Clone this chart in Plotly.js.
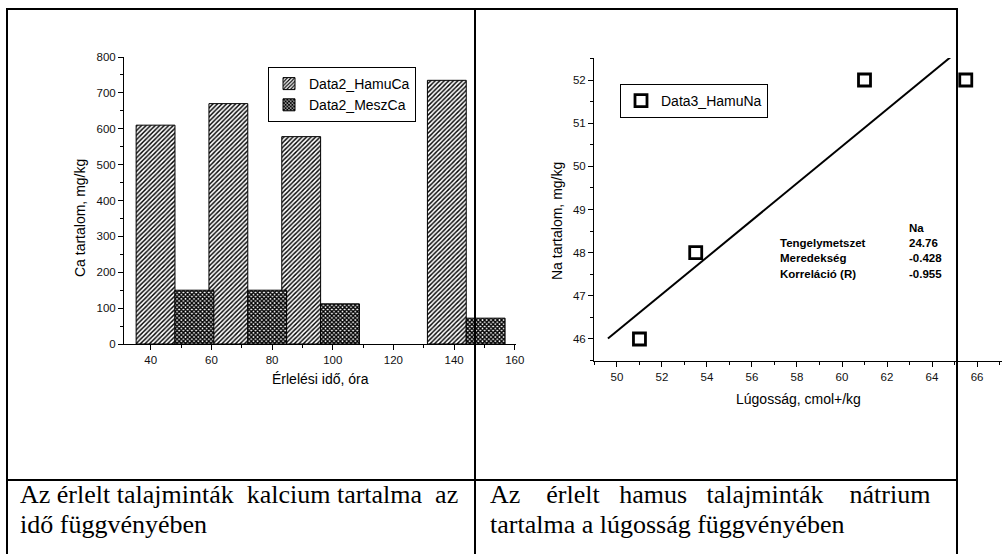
<!DOCTYPE html>
<html>
<head>
<meta charset="utf-8">
<script src="https://cdn.plot.ly/plotly-3.0.1.min.js"></script>
<style>html,body{margin:0;padding:0;background:#fff;}#plot{width:1002px;height:554px;}</style>
</head>
<body>
<div id="plot"></div>
<script>
// ---- Data: left chart (Ca content vs. ripening time) ----
const timeHours = [48, 72, 96, 144];
const hamuCa = [610, 670, 578, 735];
const meszCa = [150, 150, 112, 72];
const caSeriesNames = ["Data2_HamuCa", "Data2_MeszCa"];

// ---- Data: right chart (Na content vs. alkalinity) ----
const lugossag = [51, 53.5, 61, 65.5];
const hamuNa = [46, 48, 52, 52];
const naSeriesName = "Data3_HamuNa";
const fitSpanX = [49.6, 66];

// ---- Texts ----
const statLabels = ["Tengelymetszet", "Meredekség", "Korreláció (R)"];
const statValues = ["24.76", "-0.428", "-0.955"];
const statHeader = "Na";
const NB = "\u00a0";
const captionLeft = ["Az érlelt talajminták" + NB + " kalcium tartalma" + NB + " az", "idő függvényében"];
const captionRight = ["Az" + NB.repeat(3) + " érlelt" + NB.repeat(2) + " hamus" + NB.repeat(2) + " talajminták" + NB.repeat(3) + " nátrium", "tartalma a lúgosság függvényében"];

// least-squares fit of the Na data
function linFit(xs, ys) {
  const n = xs.length;
  const mx = xs.reduce((a, b) => a + b, 0) / n;
  const my = ys.reduce((a, b) => a + b, 0) / n;
  let sxx = 0, sxy = 0;
  for (let i = 0; i < n; i++) { sxx += (xs[i] - mx) ** 2; sxy += (xs[i] - mx) * (ys[i] - my); }
  const b = sxy / sxx;
  return { a: my - b * mx, b: b };
}
const fit = linFit(lugossag, hamuNa);
const fitY = fitSpanX.map(x => fit.a + fit.b * x);

const W = 1002, H = 554;
const px = x => x / W;
const py = y => 1 - y / H;

const SANS = "Liberation Sans";
const SERIF = "Liberation Serif";
const BW = 12.8;

const traces = [
  {
    type: "bar", name: caSeriesNames[0], x: timeHours, y: hamuCa,
    xaxis: "x", yaxis: "y", width: BW, offset: -BW, legend: "legend",
    marker: { color: "#fff", line: { color: "#000", width: 1 },
      pattern: { shape: "/", fgcolor: "#000", bgcolor: "#fff", size: 3.2, solidity: 0.45 } }
  },
  {
    type: "bar", name: caSeriesNames[1], x: timeHours, y: meszCa,
    xaxis: "x", yaxis: "y", width: BW, offset: 0, legend: "legend",
    marker: { color: "#fff", line: { color: "#000", width: 1 },
      pattern: { shape: "x", fgcolor: "#000", bgcolor: "#fff", size: 3, solidity: 0.7 } }
  },
  {
    type: "scatter", mode: "lines", x: fitSpanX, y: fitY, xaxis: "x2", yaxis: "y2",
    showlegend: false, line: { color: "#000", width: 2 }, hoverinfo: "skip"
  },
  {
    type: "scatter", mode: "markers", name: naSeriesName, x: lugossag, y: hamuNa,
    xaxis: "x2", yaxis: "y2", legend: "legend2", cliponaxis: false,
    marker: { symbol: "square-open", size: 12, color: "#000", line: { color: "#000", width: 2.8 } }
  }
];

const axisCommon = {
  showgrid: false, zeroline: false, showline: true, linecolor: "#000", linewidth: 1,
  ticks: "outside", ticklen: 5, tickwidth: 1, tickcolor: "#000",
  tickfont: { family: SANS, size: 11.5, color: "#111" },
  fixedrange: true
};

const layout = {
  width: W, height: H, autosize: false,
  margin: { l: 0, r: 0, t: 0, b: 0, pad: 0 },
  paper_bgcolor: "#fff", plot_bgcolor: "rgba(0,0,0,0)",
  barmode: "overlay",
  xaxis: Object.assign({}, axisCommon, {
    domain: [px(124), px(516)], range: [31.2, 160.4], anchor: "y",
    tick0: 0, dtick: 20,
    minor: { dtick: 10, ticks: "outside", ticklen: 3, tickcolor: "#000" }
  }),
  yaxis: Object.assign({}, axisCommon, {
    domain: [py(344), py(57)], range: [0, 800], anchor: "x",
    tick0: 0, dtick: 100,
    minor: { dtick: 50, ticks: "outside", ticklen: 3, tickcolor: "#000" }
  }),
  xaxis2: Object.assign({}, axisCommon, {
    domain: [px(594), 1], range: [48.98, 67.11], anchor: "y2",
    tick0: 0, dtick: 2,
    minor: { dtick: 1, ticks: "outside", ticklen: 3, tickcolor: "#000" }
  }),
  yaxis2: Object.assign({}, axisCommon, {
    domain: [py(361), py(58)], range: [45.49, 52.51], anchor: "x2",
    tick0: 0, dtick: 1,
    minor: { dtick: 0.5, ticks: "outside", ticklen: 3, tickcolor: "#000" }
  }),
  legend: {
    x: px(268), y: py(67), xanchor: "left", yanchor: "top",
    bgcolor: "#fff", bordercolor: "#000", borderwidth: 1,
    font: { family: SANS, size: 14, color: "#000" }, tracegroupgap: 0, traceorder: "normal"
  },
  legend2: {
    x: px(620), y: py(84), xanchor: "left", yanchor: "top",
    bgcolor: "#fff", bordercolor: "#000", borderwidth: 1,
    font: { family: SANS, size: 14, color: "#000" }
  },
  showlegend: true,
  annotations: [],
  shapes: []
};

const ann = layout.annotations;
function addText(text, x, y, opts) {
  ann.push(Object.assign({
    text: text, xref: "paper", yref: "paper", x: px(x), y: py(y),
    showarrow: false, xanchor: "center", yanchor: "middle",
    font: { family: SANS, size: 14, color: "#000" }
  }, opts || {}));
}
// axis titles
addText("Ca tartalom, mg/kg", 80, 218, { textangle: -90 });
addText("Érlelési idő, óra", 320, 379);
addText("Na tartalom, mg/kg", 557, 221, { textangle: -90 });
addText("Lúgosság, cmol+/kg", 798, 399);
// fit statistics
const statFont = { family: SANS, size: 11.5, color: "#000", weight: "bold" };
addText(statHeader, 907, 228, { xanchor: "left", font: statFont });
statLabels.forEach((t, i) => {
  addText(t, 778, 243 + i * 15.4, { xanchor: "left", font: statFont });
  addText(statValues[i], 907, 243 + i * 15.4, { xanchor: "left", font: statFont });
});
// captions
const capFont = { family: SERIF, size: 26, color: "#000" };
addText(captionLeft[0], 18, 494, { xanchor: "left", font: capFont });
addText(captionLeft[1], 18, 524, { xanchor: "left", font: capFont });
addText(captionRight[0], 488, 494, { xanchor: "left", font: capFont });
addText(captionRight[1], 488, 524, { xanchor: "left", font: capFont });

// table borders
function addLine(x0, y0, x1, y1) {
  layout.shapes.push({ type: "line", xref: "paper", yref: "paper", layer: "above",
    x0: px(x0), y0: py(y0), x1: px(x1), y1: py(y1), line: { color: "#000", width: 2 } });
}
addLine(6, 9, 958, 9);
addLine(7, 9, 7, 560);
addLine(957, 9, 957, 560);
addLine(475, 9, 475, 560);
addLine(7, 480, 957, 480);

Plotly.newPlot("plot", traces, layout, { staticPlot: true, displayModeBar: false });
</script>
</body>
</html>
